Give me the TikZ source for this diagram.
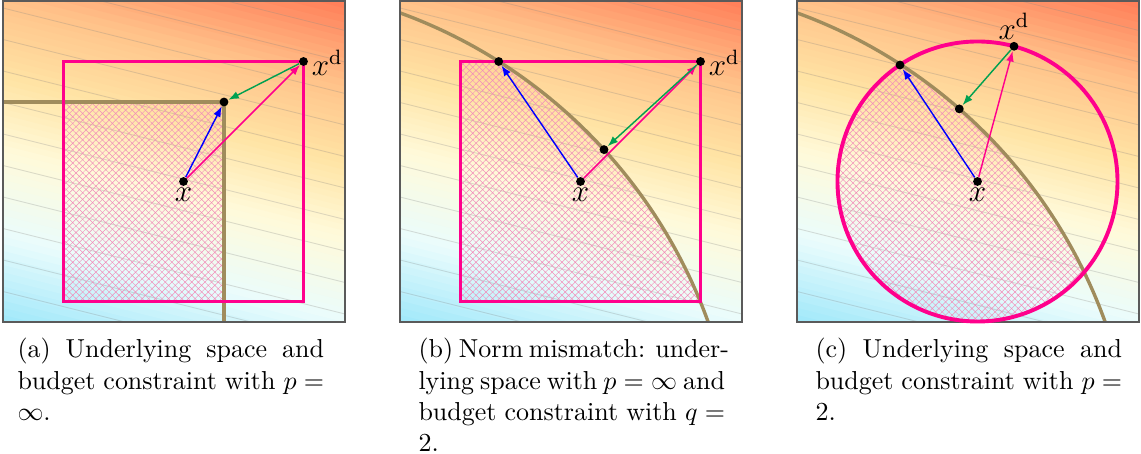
\documentclass[tikz,border=0pt]{standalone}
\usetikzlibrary{arrows.meta,patterns.meta}
\definecolor{pinkc}{RGB}{255,0,140}
\definecolor{hatchc}{RGB}{242,140,185}
\definecolor{brownc}{RGB}{160,140,92}
\definecolor{bluec}{RGB}{0,0,255}
\definecolor{greenc}{RGB}{0,160,80}
\definecolor{framec}{RGB}{90,90,90}
\definecolor{gc0}{RGB}{160,232,250}
\definecolor{gc1}{RGB}{234,252,252}
\definecolor{gc2}{RGB}{255,250,218}
\definecolor{gc3}{RGB}{255,228,165}
\definecolor{gc4}{RGB}{255,195,138}
\definecolor{gc5}{RGB}{255,125,88}
\tikzset{
  dot/.style={circle,fill=black,inner sep=0pt,minimum size=3.4pt},
  budget/.style={draw=pinkc,line width=1.5pt},
  space/.style={draw=brownc,line width=1.3pt},
  hatchfill/.style={pattern={Hatch[angle=45,distance=1.8pt,line width=0.18pt]},pattern color=hatchc},
  arr/.style={line width=0.55pt,-{Latex[length=4pt,width=3pt]}},
  contour/.style={draw=gray,opacity=0.25,line width=0.35pt},
  panelframe/.style={draw=framec,line width=0.45pt},
  lab/.style={inner sep=0pt,font=\large},
  capt/.style={inner sep=0pt,anchor=base west}
}
\newcommand{\mypanelbg}{%
  \foreach \ca/\cb/\ta/\tb in {gc0/gc1/0/0.21, gc1/gc2/0.21/0.42, gc2/gc3/0.42/0.6, gc3/gc4/0.6/0.79, gc4/gc5/0.79/1.0}{
    \foreach \k in {0,...,11}{
      \pgfmathsetmacro\vlo{(\ta+(\tb-\ta)*\k/12)*394.3}
      \pgfmathsetmacro\vhi{(\ta+(\tb-\ta)*(\k+1)/12)*394.3+1}
      \pgfmathsetmacro\pc{100*(\k+0.5)/12}
      \fill[fill=\cb!\pc!\ca] ({3+0.2425*\vlo-97},{322-0.970*\vlo-24.25}) -- ({3+0.2425*\vlo+349},{322-0.970*\vlo+87.3}) -- ({3+0.2425*\vhi+349},{322-0.970*\vhi+87.3}) -- ({3+0.2425*\vhi-97},{322-0.970*\vhi-24.25}) -- cycle;
    }
  }
  \foreach \k in {-2,...,9}{
    \draw[contour] (3,{8+31.5*\k}) -- (345,{8+31.5*\k+85.5});
  }
}
\newcommand{\jline}[1]{\makebox[\linewidth][s]{#1}}
\begin{document}
\begin{tikzpicture}[x=0.385pt,y=-0.385pt]
\useasboundingbox (0,0) rectangle (1141,454);

% ---------------- panel (a)
\begin{scope}
  \begin{scope}
    \clip (3,1) rectangle (345,322);
    \mypanelbg
    \fill[hatchfill] (63.5,102) rectangle (224,301.5);
    \draw[space] (0,102) -- (224,102) -- (224,330);
  \end{scope}
  \draw[panelframe] (3,1) rectangle (345,322);
  \draw[budget] (63.5,61.5) rectangle (303.5,301.5);
  \node[dot] (xa) at (183.5,181.5) {};
  \node[dot] (xda) at (303.5,61.5) {};
  \node[dot] (pa) at (224,102) {};
  \draw[arr,bluec] (xa) -- (pa);
  \draw[arr,pinkc] (xa) -- (xda);
  \draw[arr,greenc] (xda) -- (pa);
  \node[lab,anchor=base] (xla) at ([yshift=-7.7pt]xa.center) {$x$};
  \node[lab,anchor=base west] (xdla) at ([xshift=3pt,yshift=-5.4pt]xda.center) {$x^{\mathrm{d}}$};
\end{scope}

% ---------------- panel (b)
\begin{scope}[shift={(397,0)}]
  \begin{scope}
    \clip (3,1) rectangle (345,322);
    \mypanelbg
    \begin{scope}
      \clip (63.5,61.5) rectangle (303.5,301.5);
      \fill[hatchfill] (-173,496.5) circle (514.5);
    \end{scope}
    \draw[space] (-173,496.5) circle (514.5);
  \end{scope}
  \draw[panelframe] (3,1) rectangle (345,322);
  \draw[budget] (63.5,61.5) rectangle (303.5,301.5);
  \node[dot] (xb) at (183.5,181.5) {};
  \node[dot] (xdb) at (303.5,61.5) {};
  \node[dot] (pb) at (101.7,61.5) {};
  \node[dot] (qb) at (207,149.6) {};
  \draw[arr,bluec] (xb) -- (pb);
  \draw[arr,pinkc] (xb) -- (xdb);
  \draw[arr,greenc] (xdb) -- (qb);
  \node[lab,anchor=base] (xlb) at ([yshift=-7.7pt]xb.center) {$x$};
  \node[lab,anchor=base west] (xdlb) at ([xshift=3pt,yshift=-5.4pt]xdb.center) {$x^{\mathrm{d}}$};
\end{scope}

% ---------------- panel (c)
\begin{scope}[shift={(794,0)}]
  \begin{scope}
    \clip (3,1) rectangle (345,322);
    \mypanelbg
    \begin{scope}
      \clip (-173,496.5) circle (514.5);
      \fill[hatchfill] (183.5,181.5) circle (140);
    \end{scope}
    \draw[space] (-173,496.5) circle (514.5);
  \end{scope}
  \draw[panelframe] (3,1) rectangle (345,322);
  \draw[budget] (183.5,181.5) circle (140);
  \node[dot] (xc) at (183.5,181.5) {};
  \node[dot] (xdc) at (220,46.3) {};
  \node[dot] (pc) at (106,65) {};
  \node[dot] (qc) at (165.3,108.9) {};
  \draw[arr,bluec] (xc) -- (pc);
  \draw[arr,pinkc] (xc) -- (xdc);
  \draw[arr,greenc] (xdc) -- (qc);
  \node[lab,anchor=base] (xlc) at ([yshift=-7.7pt]xc.center) {$x$};
  \node[lab,anchor=base] (xdlc) at ([yshift=2.7pt]xdc.center) {$x^{\mathrm{d}}$};
\end{scope}

% ---------------- captions
\node[capt] (capa) at (17,358) {\parbox[t]{118pt}{\jline{(a) Underlying space and}\\\jline{budget constraint with $p =$}\\$\infty$.}};
\node[capt] (capb) at (418,358) {\parbox[t]{118pt}{\jline{(b) Norm mismatch: under-}\\\jline{lying space with $p=\infty$ and}\\\jline{budget constraint with $q =$}\\2.}};
\node[capt] (capc) at (815,358) {\parbox[t]{118pt}{\jline{(c) Underlying space and}\\\jline{budget constraint with $p =$}\\2.}};
\end{tikzpicture}
\end{document}
